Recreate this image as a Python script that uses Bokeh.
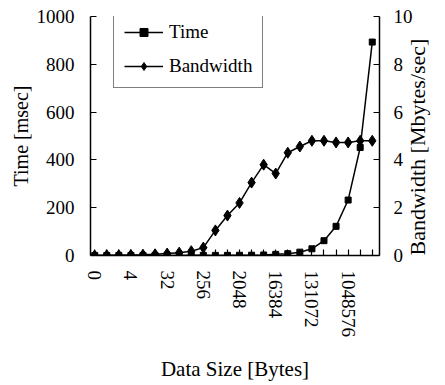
import math
from bokeh.plotting import figure
from bokeh.models import Range1d, LinearAxis, FixedTicker, Legend, LegendItem
from bokeh.embed import file_html
from bokeh.resources import INLINE

# Data sizes in bytes (categories along the x axis)
sizes = [0, 1, 2, 4, 8, 16, 32, 64, 128, 256, 512, 1024, 2048, 4096, 8192,
         16384, 32768, 65536, 131072, 262144, 524288, 1048576, 2097152, 4194304]
# Time [msec]
time_ms = [0.2, 0.2, 0.3, 0.3, 0.3, 0.4, 0.4, 0.5, 0.6, 0.8, 0.5, 0.6, 0.9, 1.3,
           2.2, 4.8, 7.6, 14, 28, 62, 122, 232, 452, 893]
# Bandwidth [Mbytes/sec]
bandwidth = [0.0, 0.01, 0.01, 0.02, 0.03, 0.05, 0.08, 0.12, 0.18, 0.33, 1.05, 1.67,
             2.2, 3.05, 3.8, 3.43, 4.3, 4.56, 4.8, 4.8, 4.73, 4.73, 4.8, 4.8]
labelled = [0, 4, 32, 256, 2048, 16384, 131072, 1048576]

FONT = "Liberation Serif"
xs = list(range(len(sizes)))

p = figure(width=445, height=385, output_backend="svg", toolbar_location=None,
           x_range=Range1d(-0.35, 23.6), y_range=Range1d(0, 1000),
           min_border_left=90, min_border_right=63, min_border_top=16,
           min_border_bottom=130, x_axis_type=None, y_axis_type=None)
p.extra_y_ranges = {"bw": Range1d(0, 10)}
p.outline_line_color = None
p.xgrid.visible = False
p.ygrid.visible = False
p.background_fill_color = "white"
p.border_fill_color = "white"


def style(ax):
    ax.axis_line_color = "black"
    ax.axis_line_width = 1.5
    ax.major_tick_line_color = "black"
    ax.major_tick_line_width = 1.2
    ax.major_tick_in = 6
    ax.major_tick_out = 0
    ax.minor_tick_line_color = None
    ax.major_label_text_font = FONT
    ax.major_label_text_font_size = "19px"
    ax.major_label_text_color = "black"
    ax.axis_label_text_font = FONT
    ax.axis_label_text_font_size = "20px"
    ax.axis_label_text_font_style = "normal"
    ax.axis_label_text_color = "black"


xaxis = LinearAxis(axis_label="Data Size [Bytes]")
xaxis.ticker = FixedTicker(ticks=xs)
xaxis.major_label_overrides = {i: (str(s) if s in labelled else "") for i, s in zip(xs, sizes)}
style(xaxis)
xaxis.axis_label_text_font_size = "21px"
xaxis.major_label_orientation = -math.pi / 2
xaxis.major_label_standoff = 15
xaxis.axis_label_standoff = 17
p.add_layout(xaxis, "below")

yaxis = LinearAxis(axis_label="Time [msec]")
yaxis.ticker = FixedTicker(ticks=[0, 200, 400, 600, 800, 1000])
style(yaxis)
yaxis.major_label_standoff = 16
yaxis.axis_label_standoff = 2
p.add_layout(yaxis, "left")

y2 = LinearAxis(y_range_name="bw", axis_label="Bandwidth [Mbytes/sec]")
y2.ticker = FixedTicker(ticks=[0, 2, 4, 6, 8, 10])
style(y2)
y2.axis_label_text_font_size = "22px"
y2.axis_label_text_line_height = 0.8
y2.major_label_standoff = 14
y2.axis_label_standoff = 2
y2.axis_label_orientation = math.pi / 2
y2.axis_label_align = "start"
p.add_layout(y2, "right")

t_line = p.line(xs, time_ms, line_color="black", line_width=1.5)
t_mark = p.scatter(xs, time_ms, marker="square", size=6, fill_color="black", line_color="black")
b_line = p.line(xs, bandwidth, line_color="black", line_width=1.5, y_range_name="bw")
b_mark = p.scatter(xs, bandwidth, marker="diamond", size=11, fill_color="black",
                   line_color="black", y_range_name="bw")

legend = Legend(items=[LegendItem(label="Time", renderers=[t_line, t_mark]),
                       LegendItem(label="Bandwidth", renderers=[b_line, b_mark])],
                location=(23, 167))
legend.label_text_font = FONT
legend.label_text_font_size = "19px"
legend.label_text_color = "black"
legend.border_line_color = "black"
legend.border_line_width = 1.5
legend.background_fill_alpha = 1
legend.padding = 10
legend.spacing = 12
legend.margin = 0
legend.glyph_width = 39
legend.glyph_height = 20
legend.label_height = 20
legend.label_standoff = 6
p.add_layout(legend, "center")

open("out.html", "w").write(file_html(p, INLINE))
